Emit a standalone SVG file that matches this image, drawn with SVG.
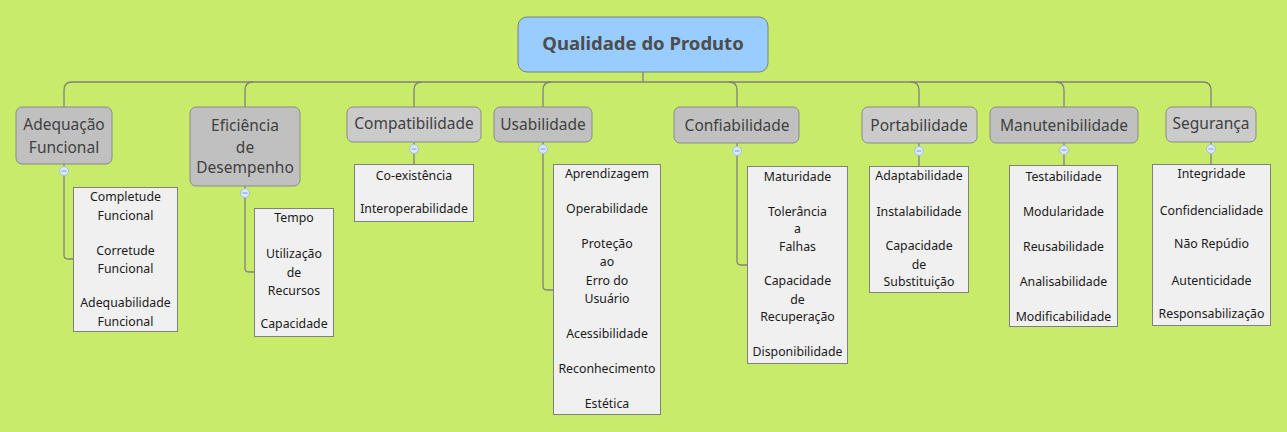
<svg xmlns="http://www.w3.org/2000/svg" width="1287" height="432" viewBox="0 0 1287 432">
<style>
.bg{fill:#c8ec6a}
.root{fill:#99ccff;stroke:#7f7f7f;stroke-width:1}
.rt{font-family:"Noto Sans",sans-serif;font-weight:bold;font-size:18.5px;fill:#4d4d4d;text-anchor:middle}
.br{fill:#c0c0c0;stroke:#8a8a8a;stroke-width:1}
.brl{fill:#cbcbcb;stroke:#8a8a8a;stroke-width:1}
.bt{font-family:"Noto Sans",sans-serif;font-size:15.5px;fill:#404040;text-anchor:middle}
.box{fill:#f0f0f0;stroke:#808080;stroke-width:1}
.st{font-family:"Noto Sans",sans-serif;font-size:12.3px;fill:#1a1a1a;text-anchor:middle}
.ln{fill:none;stroke:#808080;stroke-width:1.3}
.cc{fill:#dbe7fb;stroke:#a3bde6;stroke-width:1}
.cm{stroke:#7d9bd4;stroke-width:1}
</style>
<rect class="bg" x="0" y="0" width="1287" height="432"/>
<g id="connectors">
<path class="ln" d="M643,72 V82"/>
<path class="ln" d="M72,82 H1203"/>
<path class="ln" d="M72,82 Q64,82 64,90 V107"/>
<path class="ln" d="M253,82 Q245,82 245,90 V107"/>
<path class="ln" d="M422,82 Q414,82 414,90 V107"/>
<path class="ln" d="M551,82 Q543,82 543,90 V107"/>
<path class="ln" d="M729,82 Q737,82 737,90 V107"/>
<path class="ln" d="M911,82 Q919,82 919,90 V107"/>
<path class="ln" d="M1056,82 Q1064,82 1064,90 V107"/>
<path class="ln" d="M1203,82 Q1211,82 1211,90 V107"/>
<path class="ln" d="M64,164 V255 Q64,259 68,259 H73"/>
<path class="ln" d="M245,186 V268 Q245,272 249,272 H254"/>
<path class="ln" d="M414,142 V164"/>
<path class="ln" d="M543,142 V286 Q543,290 547,290 H553"/>
<path class="ln" d="M737,143 V261 Q737,265 741,265 H747"/>
<path class="ln" d="M919,143 V166"/>
<path class="ln" d="M1064,143 V165"/>
<path class="ln" d="M1211,142 V164"/>
</g>
<g id="root">
<rect class="root" x="518" y="17" width="250" height="55" rx="9"/>
<text class="rt" x="643" y="50">Qualidade do Produto</text>
</g>
<g id="adequacao">
<rect class="br" x="16" y="107" width="96" height="57" rx="6"/>
<text class="bt" x="64" y="130">Adequação</text>
<text class="bt" x="64" y="153">Funcional</text>
<circle class="cc" cx="64" cy="171" r="4.5"/><path class="cm" d="M61.5,171 H66.5"/>
<rect class="box" x="73.5" y="187.5" width="104" height="144"/>
<text class="st" x="125.5" y="201">Completude</text>
<text class="st" x="125.5" y="220">Funcional</text>
<text class="st" x="125.5" y="255">Corretude</text>
<text class="st" x="125.5" y="273">Funcional</text>
<text class="st" x="125.5" y="307">Adequabilidade</text>
<text class="st" x="125.5" y="326">Funcional</text>
</g>
<g id="eficiencia">
<rect class="br" x="190" y="107" width="110" height="79" rx="6"/>
<text class="bt" x="245" y="131">Eficiência</text>
<text class="bt" x="245" y="153">de</text>
<text class="bt" x="245" y="173">Desempenho</text>
<circle class="cc" cx="245" cy="193" r="4.5"/><path class="cm" d="M242.5,193 H247.5"/>
<rect class="box" x="254.5" y="208.5" width="79" height="128"/>
<text class="st" x="294" y="222">Tempo</text>
<text class="st" x="294" y="258">Utilização</text>
<text class="st" x="294" y="277">de</text>
<text class="st" x="294" y="295">Recursos</text>
<text class="st" x="294" y="328">Capacidade</text>
</g>
<g id="compatibilidade">
<rect class="brl" x="347" y="107" width="134" height="35" rx="6"/>
<text class="bt" x="414" y="129">Compatibilidade</text>
<circle class="cc" cx="414" cy="149" r="4.5"/><path class="cm" d="M411.5,149 H416.5"/>
<rect class="box" x="354.5" y="164.5" width="119" height="57"/>
<text class="st" x="414" y="180">Co-existência</text>
<text class="st" x="414" y="213">Interoperabilidade</text>
</g>
<g id="usabilidade">
<rect class="br" x="494" y="107" width="98" height="35" rx="6"/>
<text class="bt" x="543" y="130">Usabilidade</text>
<circle class="cc" cx="543" cy="149" r="4.5"/><path class="cm" d="M540.5,149 H545.5"/>
<rect class="box" x="553.5" y="164.5" width="107" height="250"/>
<text class="st" x="607" y="178">Aprendizagem</text>
<text class="st" x="607" y="213">Operabilidade</text>
<text class="st" x="607" y="248">Proteção</text>
<text class="st" x="607" y="266">ao</text>
<text class="st" x="607" y="285">Erro do</text>
<text class="st" x="607" y="303">Usuário</text>
<text class="st" x="607" y="338">Acessibilidade</text>
<text class="st" x="607" y="373">Reconhecimento</text>
<text class="st" x="607" y="408">Estética</text>
</g>
<g id="confiabilidade">
<rect class="br" x="674" y="107" width="125" height="36" rx="6"/>
<text class="bt" x="737" y="131">Confiabilidade</text>
<circle class="cc" cx="737" cy="151" r="4.5"/><path class="cm" d="M734.5,151 H739.5"/>
<rect class="box" x="747.5" y="166.5" width="100" height="197"/>
<text class="st" x="797.5" y="181">Maturidade</text>
<text class="st" x="797.5" y="216">Tolerância</text>
<text class="st" x="797.5" y="233">a</text>
<text class="st" x="797.5" y="251">Falhas</text>
<text class="st" x="797.5" y="285">Capacidade</text>
<text class="st" x="797.5" y="304">de</text>
<text class="st" x="797.5" y="321">Recuperação</text>
<text class="st" x="797.5" y="356">Disponibilidade</text>
</g>
<g id="portabilidade">
<rect class="brl" x="862" y="107" width="115" height="36" rx="6"/>
<text class="bt" x="919" y="131">Portabilidade</text>
<circle class="cc" cx="919" cy="151" r="4.5"/><path class="cm" d="M916.5,151 H921.5"/>
<rect class="box" x="869.5" y="166.5" width="99" height="126"/>
<text class="st" x="919" y="180">Adaptabilidade</text>
<text class="st" x="919" y="216">Instalabilidade</text>
<text class="st" x="919" y="250">Capacidade</text>
<text class="st" x="919" y="269">de</text>
<text class="st" x="919" y="286">Substituição</text>
</g>
<g id="manutenibilidade">
<rect class="br" x="990" y="107" width="148" height="36" rx="6"/>
<text class="bt" x="1064" y="131">Manutenibilidade</text>
<circle class="cc" cx="1064" cy="150" r="4.5"/><path class="cm" d="M1061.5,150 H1066.5"/>
<rect class="box" x="1009.5" y="165.5" width="108" height="161"/>
<text class="st" x="1063.5" y="181">Testabilidade</text>
<text class="st" x="1063.5" y="216">Modularidade</text>
<text class="st" x="1063.5" y="251">Reusabilidade</text>
<text class="st" x="1063.5" y="286">Analisabilidade</text>
<text class="st" x="1063.5" y="321">Modificabilidade</text>
</g>
<g id="seguranca">
<rect class="brl" x="1166" y="107" width="90" height="35" rx="6"/>
<text class="bt" x="1211" y="129">Segurança</text>
<circle class="cc" cx="1211" cy="149" r="4.5"/><path class="cm" d="M1208.5,149 H1213.5"/>
<rect class="box" x="1152.5" y="164.5" width="118" height="161"/>
<text class="st" x="1211.5" y="178">Integridade</text>
<text class="st" x="1211.5" y="215">Confidencialidade</text>
<text class="st" x="1211.5" y="248">Não Repúdio</text>
<text class="st" x="1211.5" y="285">Autenticidade</text>
<text class="st" x="1211.5" y="318">Responsabilização</text>
</g>
</svg>
